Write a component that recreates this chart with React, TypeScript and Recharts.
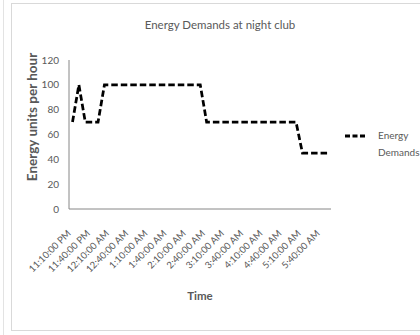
import { LineChart, Line, XAxis, YAxis } from "recharts"

const FONT = "Lato, 'Noto Sans', sans-serif"

// 10-minute readings through the night
const times = [
  "11:10:00 PM", "11:20:00 PM", "11:30:00 PM", "11:40:00 PM", "11:50:00 PM",
  "12:00:00 AM", "12:10:00 AM", "12:20:00 AM", "12:30:00 AM", "12:40:00 AM", "12:50:00 AM",
  "1:00:00 AM", "1:10:00 AM", "1:20:00 AM", "1:30:00 AM", "1:40:00 AM", "1:50:00 AM",
  "2:00:00 AM", "2:10:00 AM", "2:20:00 AM", "2:30:00 AM", "2:40:00 AM", "2:50:00 AM",
  "3:00:00 AM", "3:10:00 AM", "3:20:00 AM", "3:30:00 AM", "3:40:00 AM", "3:50:00 AM",
  "4:00:00 AM", "4:10:00 AM", "4:20:00 AM", "4:30:00 AM", "4:40:00 AM", "4:50:00 AM",
  "5:00:00 AM", "5:10:00 AM", "5:20:00 AM", "5:30:00 AM", "5:40:00 AM", "5:50:00 AM",
]

const demand = [
  70, 100, 70, 70, 70,
  100, 100, 100, 100, 100, 100,
  100, 100, 100, 100, 100, 100,
  100, 100, 100, 100, 70, 70,
  70, 70, 70, 70, 70, 70,
  70, 70, 70, 70, 70, 70,
  70, 45, 45, 45, 45, 45,
]

const yTicks = [0, 20, 40, 60, 80, 100, 120]

const data = times.map((time, i) => ({ time, demand: demand[i] }))

function TimeTick(props: any) {
  const { x, y, payload } = props
  const ax = x - 1
  const ay = y + 17
  return (
    <text
      x={ax}
      y={ay}
      transform={`rotate(-45 ${ax} ${ay})`}
      textAnchor="end"
      fontSize={9.5}
      fill="#595959"
      fontFamily={FONT}
    >
      {payload.value}
    </text>
  )
}

const yTitle = () => (
  <text
    x={32}
    y={117}
    transform="rotate(-90 32 117)"
    textAnchor="middle"
    dominantBaseline="central"
    fontSize={13.5}
    fontWeight="bold"
    fill="#595959"
    fontFamily={FONT}
  >
    Energy units per hour
  </text>
)

const xTitle = () => (
  <text
    x={200}
    y={295}
    textAnchor="middle"
    dominantBaseline="central"
    fontSize={11.5}
    fontWeight="bold"
    fill="#595959"
    fontFamily={FONT}
  >
    Time
  </text>
)

export default function App() {
  return (
    <div
      style={{
        position: "absolute",
        left: 0,
        top: 0,
        width: 420,
        height: 335,
        background: "#fff",
        overflow: "hidden",
        fontFamily: FONT,
      }}
    >
      <div style={{ position: "absolute", left: 3, top: 0, width: 1, height: 335, background: "#e3e3e3" }} />
      <div
        style={{
          position: "absolute",
          left: 11,
          top: 3,
          width: 420,
          height: 328,
          border: "1px solid #d9d9d9",
          boxSizing: "border-box",
        }}
      />
      <LineChart
        width={420}
        height={335}
        data={data}
        margin={{ top: 60, right: 89, bottom: 0, left: 0 }}
        style={{ position: "absolute", left: 0, top: 0 }}
      >
        <XAxis
          dataKey="time"
          interval={2}
          height={126}
          tickLine={false}
          padding={{ left: 3.5, right: 3 }}
          stroke="#868686"
          tick={<TimeTick />}
          label={xTitle}
        />
        <YAxis
          domain={[0, 120]}
          ticks={yTicks}
          interval={0}
          width={69}
          tickLine={false}
          tickMargin={4}
          stroke="#868686"
          tick={{ fontSize: 10, fill: "#595959", fontFamily: FONT }}
          label={yTitle}
        />
        <Line
          type="linear"
          dataKey="demand"
          stroke="#000"
          strokeWidth={2.75}
          strokeDasharray="6.5 3"
          dot={false}
          isAnimationActive={false}
        />
      </LineChart>
      <div
        style={{
          position: "absolute",
          left: 120,
          top: 17,
          width: 200,
          textAlign: "center",
          fontSize: 11.5,
          lineHeight: "16px",
          color: "#595959",
        }}
      >
        Energy Demands at night club
      </div>
      <svg style={{ position: "absolute", left: 344, top: 132 }} width={22} height={8}>
        <line x1={1} y1={4} x2={21} y2={4} stroke="#000" strokeWidth={3} strokeDasharray="5 2.5" />
      </svg>
      <div
        style={{
          position: "absolute",
          left: 378,
          top: 127,
          fontSize: 10,
          lineHeight: "17px",
          color: "#595959",
        }}
      >
        Energy
        <br />
        Demands
      </div>
    </div>
  )
}
